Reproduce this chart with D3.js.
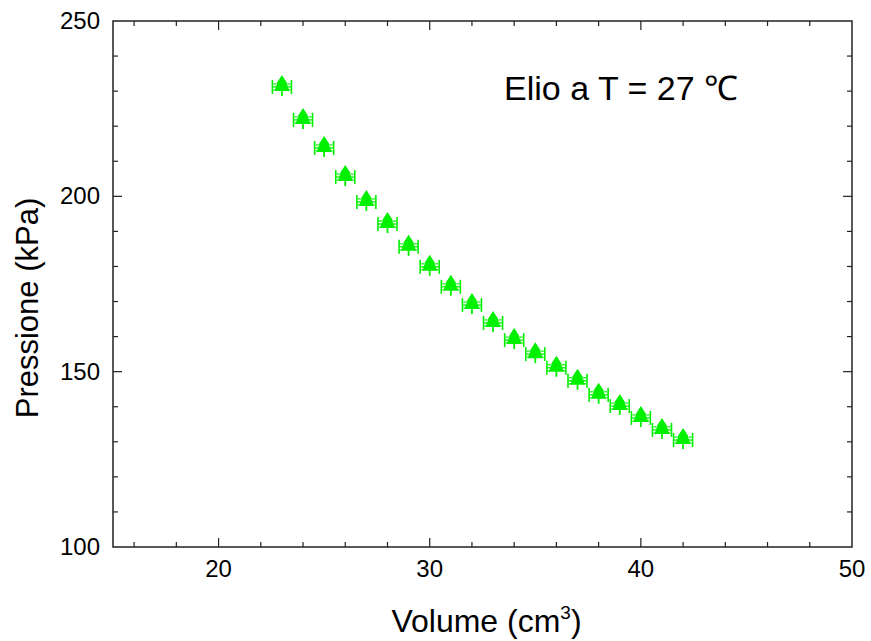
<!DOCTYPE html>
<html><head><meta charset="utf-8">
<script src="https://cdn.jsdelivr.net/npm/d3@7"></script>
<style>body{margin:0;background:#fff}svg{display:block}text{font-family:"Liberation Sans",Arial,sans-serif;fill:#000}</style>
</head><body>
<svg id="c" width="871" height="641"></svg>
<script>
const volumes = [23,24,25,26,27,28,29,30,31,32,33,34,35,36,37,38,39,40,41,42];
const pressures = [231.2,221.8,213.8,205.5,198.4,192.1,185.6,179.9,174.2,169.0,163.9,159.0,155.0,151.1,147.4,143.4,140.2,136.8,133.4,130.5];
const xErr = 0.45;
const xTicks = [20,30,40,50];
const yTicks = [100,150,200,250];
const annotation = "Elio a T = 27 ℃";

const svg = d3.select("#c");
const L=113, R=852, T=21, B=547;
const x = d3.scaleLinear().domain([15,50]).range([L,R]);
const y = d3.scaleLinear().domain([100,250]).range([B,T]);
const color = "#00f000";
const axCol = "#222";

svg.append("rect").attr("x",L).attr("y",T).attr("width",R-L).attr("height",B-T)
  .attr("fill","none").attr("stroke",axCol).attr("stroke-width",1.5);

const g = svg.append("g");
d3.range(16,50,2).forEach(v=>{
  const major = v%10===0, len = major?9:5;
  g.append("line").attr("x1",x(v)).attr("x2",x(v)).attr("y1",B).attr("y2",B-len).attr("stroke",axCol).attr("stroke-width",1.2);
  g.append("line").attr("x1",x(v)).attr("x2",x(v)).attr("y1",T).attr("y2",T+len).attr("stroke",axCol).attr("stroke-width",1.2);
});
d3.range(110,250,10).forEach(v=>{
  const major = v%50===0, len = major?9:5;
  g.append("line").attr("y1",y(v)).attr("y2",y(v)).attr("x1",L).attr("x2",L+len).attr("stroke",axCol).attr("stroke-width",1.2);
  g.append("line").attr("y1",y(v)).attr("y2",y(v)).attr("x1",R).attr("x2",R-len).attr("stroke",axCol).attr("stroke-width",1.2);
});
xTicks.forEach(v=>{
  svg.append("text").attr("x",x(v)).attr("y",577).attr("text-anchor","middle").attr("font-size",24).text(v);
});
yTicks.forEach(v=>{
  svg.append("text").attr("x",100).attr("y",y(v)+8).attr("text-anchor","end").attr("font-size",24).text(v);
});

const xt = svg.append("text").attr("x",(L+R)/2 + 4).attr("y",632).attr("text-anchor","middle").attr("font-size",32);
xt.append("tspan").text("Volume (cm");
xt.append("tspan").attr("font-size",19).attr("dy",-13).text("3");
xt.append("tspan").attr("dy",13).text(")");
svg.append("text").attr("transform",`translate(38,${(T+B)/2 + 24}) rotate(-90)`).attr("text-anchor","middle").attr("font-size",31).text("Pressione (kPa)");

svg.append("text").attr("x",504).attr("y",100).attr("font-size",34).text(annotation);

const data = volumes.map((v,i)=>({v, p:pressures[i]}));
const pts = svg.append("g").selectAll("g").data(data).join("g")
  .attr("transform",d=>`translate(${x(d.v)},${y(d.p)})`);
const hw = x(15+xErr)-x(15);
pts.append("line").attr("x1",-hw).attr("x2",hw).attr("y1",0).attr("y2",0).attr("stroke",color).attr("stroke-width",1.3);
[-1,1].forEach(s=>{
  pts.append("line").attr("x1",s*hw).attr("x2",s*hw).attr("y1",-7).attr("y2",7).attr("stroke",color).attr("stroke-width",1.6);
  pts.append("line").attr("x1",s*(hw-1)).attr("x2",s*(hw-4)).attr("y1",-3).attr("y2",-3).attr("stroke",color).attr("stroke-width",1.2);
  pts.append("line").attr("x1",s*(hw-1)).attr("x2",s*(hw-4)).attr("y1",3).attr("y2",3).attr("stroke",color).attr("stroke-width",1.2);
});
pts.append("line").attr("x1",0).attr("x2",0).attr("y1",0).attr("y2",9).attr("stroke",color).attr("stroke-width",1.8);
pts.append("path").attr("fill",color)
  .attr("d","M0,-12 L5.5,-3.5 L4.8,-3.5 L7.5,4 L-7.5,4 L-4.8,-3.5 L-5.5,-3.5 Z");
</script>
</body></html>
